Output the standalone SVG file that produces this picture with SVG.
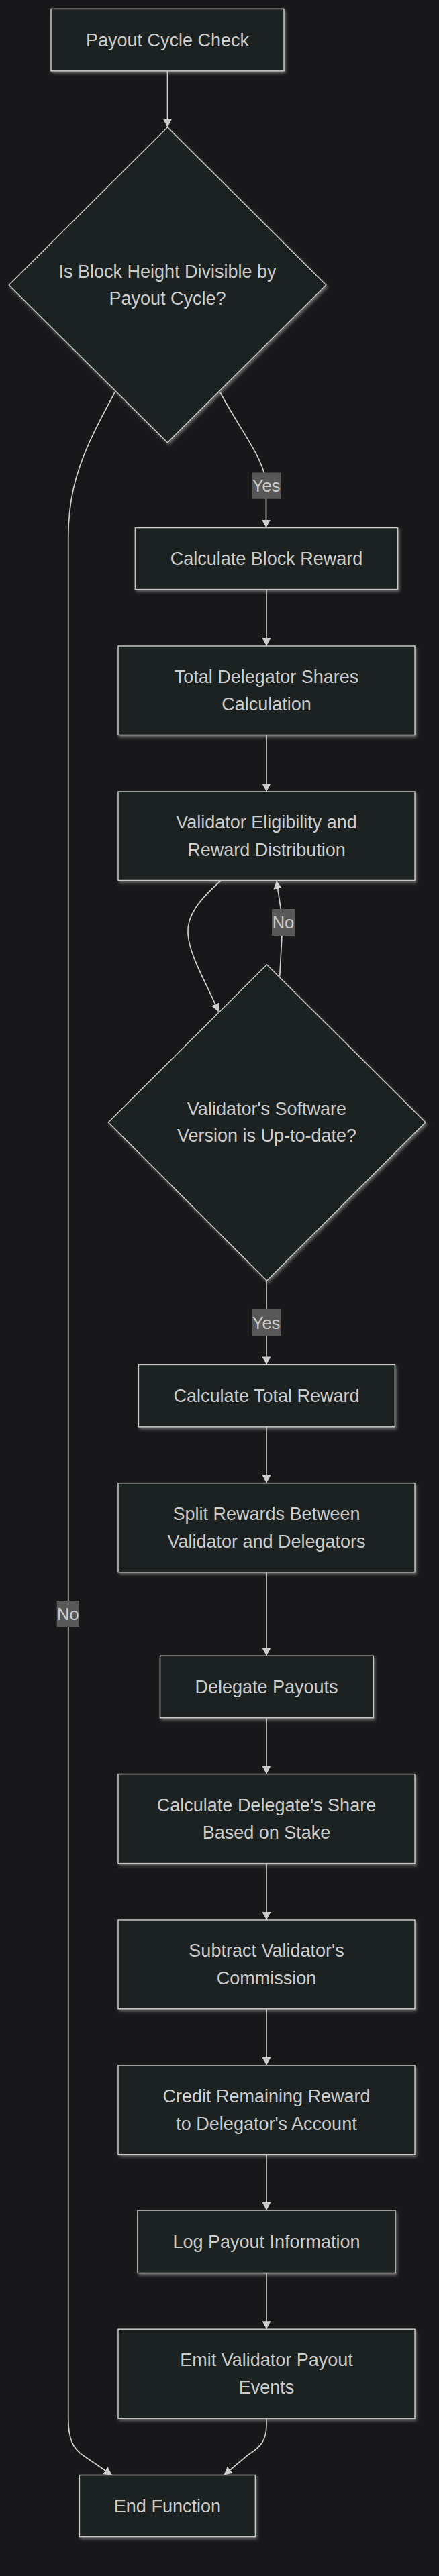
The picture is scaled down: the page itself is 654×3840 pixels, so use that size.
<svg xmlns="http://www.w3.org/2000/svg" width="654" height="3840" viewBox="0 0 654 3840">
<style>
.bg{fill:#18181b}
.node rect,.node polygon{fill:#1f2020;stroke:#c8c8c8;stroke-width:1.5;filter:url(#glow)}
.node text{font-family:"Liberation Sans",Arial,sans-serif;font-size:27px;fill:#cccccc;text-anchor:middle}
.edge{fill:none;stroke:#cccccc;stroke-width:1.7;marker-end:url(#arrow)}
.lbl rect{fill:#585858}
.lbl text{font-family:"Liberation Sans",Arial,sans-serif;font-size:25.5px;fill:#cccccc;text-anchor:middle}
</style>
<defs>
<filter id="glow" x="-10%" y="-10%" width="125%" height="130%">
<feDropShadow dx="2" dy="3" stdDeviation="2" flood-color="#c8c8c8" flood-opacity="0.45"/>
</filter>
<marker id="arrow" viewBox="0 0 12 13" refX="12" refY="6.5" markerWidth="12" markerHeight="13" markerUnits="userSpaceOnUse" orient="auto">
<path d="M0,0 L12,6.5 L0,13 z" fill="#cccccc"/>
</marker>
</defs>
<rect class="bg" x="0" y="0" width="654" height="3840"/>

<g id="connectors">
<path class="edge" d="M249.5,105.8 L249.5,189.7"/>
<path class="edge" d="M328,585 C362,648 396.5,688 396.5,724 L396.5,786.6"/>
<path class="edge" d="M397,878.6 L397,963"/>
<path class="edge" d="M397,1095.5 L397,1180"/>
<path class="edge" d="M329.3,1312.5 C296,1342 278,1365 280,1392 C282,1425 310,1470 325.5,1508"/>
<path class="edge" d="M416.7,1455.5 L420,1395 L418.3,1355 L412,1313"/>
<path class="edge" d="M397,1909 L397,2034.4"/>
<path class="edge" d="M397,2126.8 L397,2210.7"/>
<path class="edge" d="M397,2343.7 L397,2468.3"/>
<path class="edge" d="M397,2560.7 L397,2644.6"/>
<path class="edge" d="M397,2777.7 L397,2862"/>
<path class="edge" d="M397,2994.7 L397,3079"/>
<path class="edge" d="M397,3211.7 L397,3295"/>
<path class="edge" d="M397,3388.5 L397,3472.2"/>
<path class="edge" d="M397,3605 L397,3615 C397,3638 388,3648 370,3659 L333.6,3689.5"/>
<path class="edge" d="M171,585 C125,670 101.75,720 101.75,800 L101.75,3605 C101.75,3635 108,3650 125,3661 L166.8,3689.5"/>
<g class="lbl">
<rect x="375" y="704.5" width="43.3" height="39.3"/>
<text x="396.6" y="733">Yes</text>
</g>
<g class="lbl">
<rect x="405" y="1355" width="34" height="40"/>
<text x="422" y="1384">No</text>
</g>
<g class="lbl">
<rect x="375" y="1951.8" width="43.3" height="39.7"/>
<text x="396.6" y="1980.5">Yes</text>
</g>
<g class="lbl">
<rect x="84.7" y="2386" width="33.3" height="39.4"/>
<text x="101.4" y="2415">No</text>
</g>
</g>

<g id="n_payout_cycle_check" class="node">
<rect x="76" y="13.4" width="347" height="92.4"/>
<text x="249.5" y="69">Payout Cycle Check</text>
</g>
<g id="n_block_height_divisible" class="node">
<polygon points="249.5,189.7 485.8,425 249.5,659.8 13.3,425"/>
<text x="249.5" y="414">Is Block Height Divisible by</text>
<text x="249.5" y="454">Payout Cycle?</text>
</g>
<g id="n_calc_block_reward" class="node">
<rect x="201.4" y="786.6" width="391.2" height="92"/>
<text x="397" y="842">Calculate Block Reward</text>
</g>
<g id="n_total_delegator_shares" class="node">
<rect x="176" y="963" width="442" height="132.5"/>
<text x="397" y="1018">Total Delegator Shares</text>
<text x="397" y="1058.5">Calculation</text>
</g>
<g id="n_validator_eligibility" class="node">
<rect x="176" y="1180" width="442" height="132.5"/>
<text x="397" y="1235">Validator Eligibility and</text>
<text x="397" y="1275.5">Reward Distribution</text>
</g>
<g id="n_software_uptodate" class="node">
<polygon points="397.5,1438 633.9,1673 397.5,1909 161.4,1673"/>
<text x="397.5" y="1662">Validator's Software</text>
<text x="397.5" y="1702">Version is Up-to-date?</text>
</g>
<g id="n_calc_total_reward" class="node">
<rect x="206.4" y="2034.4" width="382" height="92.4"/>
<text x="397" y="2090">Calculate Total Reward</text>
</g>
<g id="n_split_rewards" class="node">
<rect x="176" y="2210.7" width="442" height="133"/>
<text x="397" y="2266">Split Rewards Between</text>
<text x="397" y="2306.5">Validator and Delegators</text>
</g>
<g id="n_delegate_payouts" class="node">
<rect x="238.5" y="2468.3" width="317.8" height="92.4"/>
<text x="397" y="2524">Delegate Payouts</text>
</g>
<g id="n_calc_delegate_share" class="node">
<rect x="176" y="2644.6" width="442" height="133"/>
<text x="397" y="2700">Calculate Delegate's Share</text>
<text x="397" y="2740.5">Based on Stake</text>
</g>
<g id="n_subtract_commission" class="node">
<rect x="176" y="2862" width="442" height="132.7"/>
<text x="397" y="2917">Subtract Validator's</text>
<text x="397" y="2957.5">Commission</text>
</g>
<g id="n_credit_remaining" class="node">
<rect x="176" y="3079" width="442" height="132.7"/>
<text x="397" y="3134">Credit Remaining Reward</text>
<text x="397" y="3174.5">to Delegator's Account</text>
</g>
<g id="n_log_payout" class="node">
<rect x="205" y="3295" width="384" height="93.5"/>
<text x="397" y="3351">Log Payout Information</text>
</g>
<g id="n_emit_events" class="node">
<rect x="176" y="3472.2" width="442" height="133"/>
<text x="397" y="3527">Emit Validator Payout</text>
<text x="397" y="3567.5">Events</text>
</g>
<g id="n_end_function" class="node">
<rect x="118.4" y="3689.5" width="262" height="92"/>
<text x="249.4" y="3745">End Function</text>
</g>
</svg>
